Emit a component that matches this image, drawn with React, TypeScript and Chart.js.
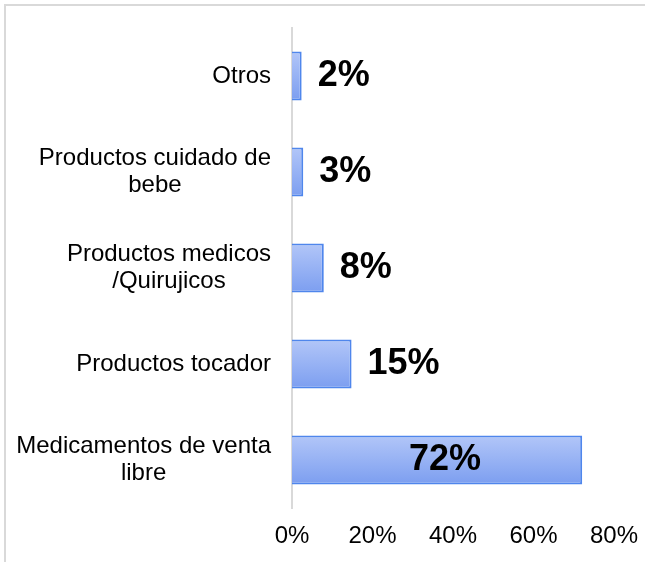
import React, { useEffect, useRef } from "react";
import { Chart, registerables } from "chart.js";

Chart.register(...registerables);

const categories: string[][] = [
  ["Otros"],
  ["Productos cuidado de", "bebe"],
  ["Productos medicos", "/Quirujicos"],
  ["Productos tocador"],
  ["Medicamentos de venta", "libre"],
];
const values: number[] = [2.4, 2.8, 7.9, 14.8, 72.1];
const valueLabels: string[] = ["2%", "3%", "8%", "15%", "72%"];
const xTicks: number[] = [0, 20, 40, 60, 80];

const FONT = "'Liberation Sans', Arial, sans-serif";

const labelPlugin = {
  id: "customLabels",
  afterDatasetsDraw(chart: any) {
    const ctx = chart.ctx;
    const yScale = chart.scales.y;
    const xScale = chart.scales.x;
    const meta = chart.getDatasetMeta(0);
    ctx.save();
    // category labels
    ctx.font = `24px ${FONT}`;
    ctx.fillStyle = "#000000";
    ctx.textAlign = "center";
    ctx.textBaseline = "middle";
    const lineH = 27.5;
    const rightEdge = chart.chartArea.left - 21;
    categories.forEach((lines, i) => {
      const cy = yScale.getPixelForValue(i);
      const w = Math.max(...lines.map((l) => ctx.measureText(l).width));
      const cx = rightEdge - w / 2;
      const startY = cy - ((lines.length - 1) * lineH) / 2;
      lines.forEach((l, j) => ctx.fillText(l, cx, startY + j * lineH));
    });
    // value labels
    ctx.font = `bold 36px ${FONT}`;
    values.forEach((v, i) => {
      const bar = meta.data[i];
      const cy = bar.y;
      const end = xScale.getPixelForValue(v);
      const base = xScale.getPixelForValue(0);
      if (v > 40) {
        ctx.textAlign = "center";
        ctx.fillText(valueLabels[i], (end + base) / 2 + 8, cy);
      } else {
        ctx.textAlign = "left";
        ctx.fillText(valueLabels[i], end + 16, cy);
      }
    });
    ctx.restore();
  },
};

export default function App() {
  const canvasRef = useRef<HTMLCanvasElement | null>(null);

  useEffect(() => {
    if (!canvasRef.current) return;
    const chart = new Chart(canvasRef.current, {
      type: "bar",
      data: {
        labels: categories.map((c) => c.join(" ")),
        datasets: [
          {
            data: values,
            categoryPercentage: 1,
            barPercentage: 0.51,
            borderColor: "#4f86ec",
            borderWidth: 2,
            backgroundColor: (c: any) => {
              const ch = c.chart;
              const ys = ch.scales?.y;
              if (!ys || c.dataIndex === undefined || !ch.chartArea) return "#95b1f3";
              const cy = ys.getPixelForValue(c.dataIndex);
              const half = ((ys.bottom - ys.top) / categories.length) * 0.51 / 2;
              const g = ch.ctx.createLinearGradient(0, cy - half, 0, cy + half);
              g.addColorStop(0, "#b2c6f8");
              g.addColorStop(1, "#7c9ef0");
              return g;
            },
          },
        ],
      },
      options: {
        indexAxis: "y",
        animation: false,
        responsive: false,
        layout: { padding: { left: 0, right: 31, top: 28, bottom: 0 } },
        plugins: {
          legend: { display: false },
          tooltip: { enabled: false },
        },
        scales: {
          x: {
            min: 0,
            max: 80,
            afterBuildTicks: (s: any) => {
              s.ticks = xTicks.map((v) => ({ value: v }));
            },
            afterFit: (s: any) => {
              s.height = 54;
              s.paddingLeft = 0;
              s.paddingRight = 0;
            },
            ticks: {
              padding: 14,
              color: "#000000",
              font: { family: FONT, size: 24 },
              callback: (v: any) => `${v}%`,
              maxRotation: 0,
            },
            grid: { display: false, drawTicks: false },
            border: { display: false },
          },
          y: {
            ticks: { display: false },
            grid: { display: false, drawTicks: false },
            border: { display: true, color: "#d9d9d9", width: 2 },
            afterFit: (s: any) => {
              s.width = 292;
            },
          },
        },
      },
      plugins: [labelPlugin],
    });
    return () => chart.destroy();
  }, []);

  return (
    <div>
      <div
        style={{
          position: "absolute",
          left: 4,
          top: 4,
          width: 641,
          height: 558,
          borderTop: "2px solid #d9d9d9",
          borderLeft: "2px solid #d9d9d9",
          boxSizing: "border-box",
        }}
      />
      <canvas
        ref={canvasRef}
        width={645}
        height={562}
        style={{ position: "absolute", left: 0, top: 0, width: 645, height: 562 }}
      />
    </div>
  );
}
